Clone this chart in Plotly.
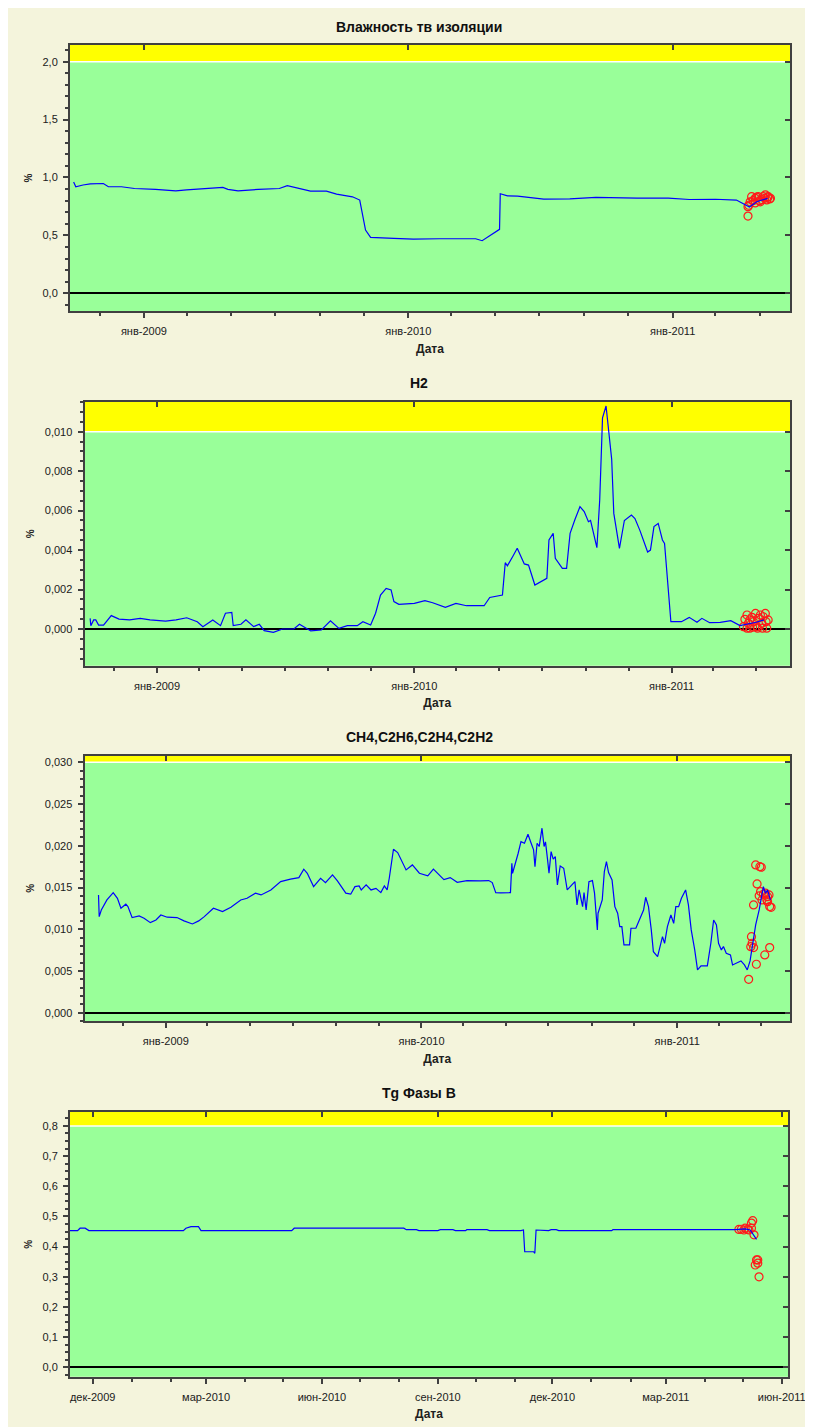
import plotly.graph_objects as go

# ---------------- Panel 1: Влажность тв изоляции ----------------
p1_title = "Влажность тв изоляции"
p1_dates = ["2008-09-26", "2008-09-29", "2008-10-09", "2008-10-19", "2008-11-06", "2008-11-13", "2008-12-01",
            "2008-12-19", "2009-01-17", "2009-02-14", "2009-03-01", "2009-03-29", "2009-04-20", "2009-04-27",
            "2009-05-11", "2009-06-08", "2009-07-07", "2009-07-18", "2009-08-05", "2009-08-19", "2009-09-10",
            "2009-09-24", "2009-10-16", "2009-10-26", "2009-11-03", "2009-11-10", "2009-12-12", "2010-01-08",
            "2010-02-13", "2010-04-04", "2010-04-13", "2010-04-26", "2010-05-07", "2010-05-08", "2010-05-18",
            "2010-06-01", "2010-06-15", "2010-07-07", "2010-08-12", "2010-09-17", "2010-11-13", "2010-12-12",
            "2010-12-26", "2011-01-24", "2011-03-01", "2011-03-30", "2011-04-13", "2011-04-17", "2011-04-27",
            "2011-05-08", "2011-05-12"]
p1_vals = [0.96, 0.92, 0.935, 0.945, 0.948, 0.92, 0.92,
           0.905, 0.897, 0.885, 0.893, 0.905, 0.914, 0.897,
           0.885, 0.897, 0.905, 0.93, 0.905, 0.882, 0.882,
           0.856, 0.833, 0.805, 0.546, 0.483, 0.474, 0.468,
           0.471, 0.471, 0.454, 0.503, 0.552, 0.86, 0.842,
           0.839, 0.828, 0.813, 0.816, 0.828, 0.822, 0.825,
           0.822, 0.81, 0.812, 0.805, 0.76, 0.745, 0.79,
           0.81, 0.82]
p1_pt_dates = ["2011-04-15", "2011-04-15", "2011-04-16", "2011-04-18", "2011-04-20", "2011-04-22", "2011-04-25",
               "2011-04-25", "2011-04-27", "2011-04-29", "2011-05-01", "2011-05-02", "2011-05-04", "2011-05-06",
               "2011-05-08", "2011-05-09", "2011-05-11", "2011-05-12", "2011-05-13", "2011-05-15", "2011-05-16"]
p1_pt_vals = [0.667, 0.748, 0.76, 0.79, 0.834, 0.80, 0.82,
              0.78, 0.83, 0.834, 0.80, 0.79, 0.81, 0.835,
              0.82, 0.85, 0.806, 0.83, 0.834, 0.815, 0.82]
p1_limit = 2.0
p1_range = [-0.153, 2.144]

# ---------------- Panel 2: H2 ----------------
p2_title = "H2"
p2_dates = ["2008-09-28", "2008-09-29", "2008-10-03", "2008-10-06", "2008-10-10", "2008-10-17", "2008-10-28",
            "2008-11-08", "2008-11-23", "2008-12-08", "2008-12-22", "2009-01-13", "2009-01-28", "2009-02-12",
            "2009-02-27", "2009-03-07", "2009-03-21", "2009-04-01", "2009-04-08", "2009-04-17", "2009-04-19",
            "2009-04-30", "2009-05-07", "2009-05-18", "2009-05-26", "2009-06-02", "2009-06-15", "2009-06-28",
            "2009-07-14", "2009-07-22", "2009-07-31", "2009-08-07", "2009-08-22", "2009-09-04", "2009-09-16",
            "2009-09-28", "2009-10-12", "2009-10-20", "2009-10-31", "2009-11-07", "2009-11-14", "2009-11-22",
            "2009-11-29", "2009-12-03", "2009-12-10", "2009-12-25", "2010-01-01", "2010-01-16", "2010-01-27",
            "2010-02-14", "2010-03-01", "2010-03-16", "2010-04-10", "2010-04-18", "2010-05-06", "2010-05-10",
            "2010-05-13", "2010-05-21", "2010-05-27", "2010-06-06", "2010-06-12", "2010-06-21", "2010-07-04",
            "2010-07-08", "2010-07-11", "2010-07-17", "2010-07-20", "2010-07-30", "2010-08-05", "2010-08-10",
            "2010-08-17", "2010-08-24", "2010-08-30", "2010-09-05", "2010-09-08", "2010-09-12", "2010-09-17",
            "2010-09-21", "2010-09-25", "2010-09-30", "2010-10-08", "2010-10-11", "2010-10-19", "2010-10-26",
            "2010-11-05", "2010-11-10", "2010-11-17", "2010-11-28", "2010-12-02", "2010-12-07", "2010-12-13",
            "2010-12-19", "2010-12-22", "2010-12-31", "2011-01-15", "2011-01-26", "2011-02-06", "2011-02-13",
            "2011-02-24", "2011-03-11", "2011-03-26", "2011-04-08", "2011-04-20", "2011-05-01", "2011-05-12"]
p2_vals = [0.00054, 0.00017, 0.00046, 0.00046, 0.00020, 0.00020, 0.00068,
           0.00050, 0.00046, 0.00054, 0.00046, 0.00040, 0.00046, 0.00057,
           0.00037, 0.00012, 0.00046, 0.00017, 0.00080, 0.00084, 0.00017,
           0.00024, 0.00046, 0.00012, 0.00024, -0.00008, -0.00017, 0.00000,
           0.00000, 0.00024, 0.00005, -0.00010, -0.00005, 0.00042, 0.00003,
           0.00017, 0.00017, 0.00037, 0.00020, 0.00080, 0.00172, 0.00206,
           0.00198, 0.00139, 0.00125, 0.00130, 0.00130, 0.00144, 0.00133,
           0.00110, 0.00130, 0.00118, 0.00118, 0.00160, 0.00172, 0.00336,
           0.00320, 0.00370, 0.00409, 0.00330, 0.00324, 0.00223, 0.00248,
           0.00257, 0.00451, 0.00485, 0.00358, 0.00307, 0.00307, 0.00485,
           0.00556, 0.00620, 0.00595, 0.00544, 0.00550, 0.00485, 0.00412,
           0.00654, 0.01070, 0.01130, 0.00860, 0.00586, 0.00409, 0.00550,
           0.00578, 0.00560, 0.00500, 0.00390, 0.00400, 0.00519, 0.00535,
           0.00451, 0.00434, 0.00037, 0.00037, 0.00059, 0.00034, 0.00054,
           0.00032, 0.00034, 0.00042, 0.00017, 0.00025, 0.00034, 0.00046]
p2_pt_dates = ["2011-04-13", "2011-04-15", "2011-04-18", "2011-04-18", "2011-04-20", "2011-04-22", "2011-04-22",
               "2011-04-25", "2011-04-26", "2011-04-27", "2011-04-30", "2011-05-02", "2011-05-03", "2011-05-04",
               "2011-05-07", "2011-05-09", "2011-05-10", "2011-05-11", "2011-05-14", "2011-05-15", "2011-05-16",
               "2011-05-18"]
p2_pt_vals = [0.00012, 0.00049, 0.00071, 0.00004, 0.00029, 0.00004, 0.00046,
              0.00059, 0.00009, 0.00037, 0.00079, 0.00012, 0.00004, 0.00054,
              0.00071, 0.00029, 0.00004, 0.00062, 0.00079, 0.00037, 0.00004,
              0.00046]
p2_limit = 0.010
p2_range = [-0.00186, 0.01152]

# ---------------- Panel 3: CH4,C2H6,C2H4,C2H2 ----------------
p3_title = "CH4,C2H6,C2H4,C2H2"
p3_dates = ["2008-09-27", "2008-09-28", "2008-10-01", "2008-10-09", "2008-10-18", "2008-10-24", "2008-10-29",
            "2008-11-05", "2008-11-08", "2008-11-14", "2008-11-24", "2008-12-01", "2008-12-10", "2008-12-18",
            "2008-12-25", "2009-01-03", "2009-01-17", "2009-01-27", "2009-02-08", "2009-02-17", "2009-02-25",
            "2009-03-10", "2009-03-23", "2009-04-04", "2009-04-18", "2009-04-27", "2009-05-09", "2009-05-17",
            "2009-05-31", "2009-06-14", "2009-06-28", "2009-07-10", "2009-07-17", "2009-07-22", "2009-07-31",
            "2009-08-10", "2009-08-17", "2009-08-27", "2009-09-03", "2009-09-15", "2009-09-22", "2009-09-28",
            "2009-10-04", "2009-10-07", "2009-10-14", "2009-10-21", "2009-10-28", "2009-11-04", "2009-11-09",
            "2009-11-13", "2009-11-16", "2009-11-22", "2009-11-28", "2009-12-10", "2009-12-19", "2009-12-29",
            "2010-01-10", "2010-01-18", "2010-02-02", "2010-02-11", "2010-02-21", "2010-03-07", "2010-03-26",
            "2010-04-07", "2010-04-12", "2010-04-17", "2010-04-24", "2010-05-08", "2010-05-10", "2010-05-11",
            "2010-05-19", "2010-05-23", "2010-05-28", "2010-06-02", "2010-06-06", "2010-06-10", "2010-06-12",
            "2010-06-15", "2010-06-18", "2010-06-22", "2010-06-25", "2010-06-27", "2010-06-30", "2010-07-02",
            "2010-07-05", "2010-07-08", "2010-07-11", "2010-07-14", "2010-07-18", "2010-07-23", "2010-07-28",
            "2010-08-02", "2010-08-08", "2010-08-11", "2010-08-14", "2010-08-19", "2010-08-21", "2010-08-24",
            "2010-08-28", "2010-09-02", "2010-09-05", "2010-09-09", "2010-09-10", "2010-09-16", "2010-09-19",
            "2010-09-22", "2010-09-25", "2010-09-30", "2010-10-04", "2010-10-08", "2010-10-11", "2010-10-14",
            "2010-10-17", "2010-10-25", "2010-10-27", "2010-11-03", "2010-11-05", "2010-11-10", "2010-11-14",
            "2010-11-17", "2010-11-21", "2010-11-25", "2010-11-28", "2010-12-04", "2010-12-08", "2010-12-11",
            "2010-12-14", "2010-12-18", "2010-12-23", "2010-12-27", "2010-12-30", "2011-01-03", "2011-01-07",
            "2011-01-13", "2011-01-17", "2011-01-21", "2011-01-26", "2011-01-30", "2011-02-04", "2011-02-13",
            "2011-02-18", "2011-02-22", "2011-02-26", "2011-03-01", "2011-03-05", "2011-03-08", "2011-03-12",
            "2011-03-18", "2011-03-21", "2011-03-28", "2011-04-02", "2011-04-07", "2011-04-11", "2011-04-15",
            "2011-04-18", "2011-04-23", "2011-04-28", "2011-05-04", "2011-05-07", "2011-05-10", "2011-05-14"]
p3_vals = [0.01411, 0.01151, 0.01231, 0.01351, 0.01439, 0.01371, 0.01252,
           0.01300, 0.01271, 0.01139, 0.01159, 0.01132, 0.01079, 0.01111,
           0.01171, 0.01144, 0.01140, 0.01100, 0.01063, 0.01100, 0.01151,
           0.01252, 0.01211, 0.01264, 0.01351, 0.01371, 0.01432, 0.01411,
           0.01471, 0.01571, 0.01600, 0.01619, 0.01720, 0.01671, 0.01511,
           0.01611, 0.01559, 0.01651, 0.01579, 0.01432, 0.01420, 0.01511,
           0.01519, 0.01471, 0.01531, 0.01471, 0.01490, 0.01439, 0.01519,
           0.01471, 0.01611, 0.01959, 0.01919, 0.01711, 0.01771, 0.01671,
           0.01639, 0.01720, 0.01595, 0.01619, 0.01563, 0.01583, 0.01580,
           0.01583, 0.01559, 0.01439, 0.01435, 0.01439, 0.01791, 0.01671,
           0.01911, 0.02050, 0.02031, 0.02139, 0.02043, 0.01951, 0.01751,
           0.02031, 0.01991, 0.02211, 0.01991, 0.02047, 0.01831, 0.01671,
           0.01930, 0.01840, 0.01870, 0.01531, 0.01759, 0.01731, 0.01471,
           0.01511, 0.01571, 0.01291, 0.01471, 0.01271, 0.01440, 0.01231,
           0.01571, 0.01583, 0.01432, 0.00992, 0.01192, 0.01351, 0.01691,
           0.01811, 0.01680, 0.01591, 0.01271, 0.01192, 0.01031, 0.01031,
           0.00812, 0.00812, 0.01012, 0.01012, 0.01050, 0.01151, 0.01231,
           0.01383, 0.01270, 0.00992, 0.00731, 0.00671, 0.00790, 0.00911,
           0.00830, 0.01031, 0.01171, 0.01070, 0.01271, 0.01271, 0.01371,
           0.01471, 0.01291, 0.00992, 0.00752, 0.00512, 0.00560, 0.00560,
           0.00832, 0.01111, 0.01052, 0.00832, 0.00752, 0.00792, 0.00712,
           0.00692, 0.00572, 0.00600, 0.00620, 0.00572, 0.00512, 0.00620,
           0.00791, 0.01052, 0.01231, 0.01511, 0.01432, 0.01470, 0.01351]
p3_pt_dates = ["2011-04-13", "2011-04-17", "2011-04-16", "2011-04-18", "2011-04-20", "2011-04-20", "2011-04-23",
               "2011-04-24", "2011-04-25", "2011-04-29", "2011-05-01", "2011-04-28", "2011-04-30", "2011-05-02",
               "2011-05-04", "2011-05-06", "2011-05-07", "2011-05-09", "2011-05-10", "2011-05-10", "2011-05-12",
               "2011-05-13", "2011-05-13", "2011-05-15"]
p3_pt_vals = [0.00400, 0.00911, 0.00791, 0.00832, 0.00780, 0.01291, 0.01771,
              0.00580, 0.01543, 0.01750, 0.01743, 0.01400, 0.01451, 0.01351,
              0.01420, 0.00692, 0.01432, 0.01351, 0.01390, 0.01330, 0.01411,
              0.00780, 0.01271, 0.01263]
p3_limit = 0.030
p3_range = [-0.001, 0.0308]

# ---------------- Panel 4: Tg Фазы В ----------------
p4_title = "Tg Фазы В"
p4_dates = ["2009-11-13", "2009-11-19", "2009-11-21", "2009-11-25", "2009-11-28", "2010-02-11", "2010-02-13",
            "2010-02-17", "2010-02-23", "2010-02-25", "2010-05-08", "2010-05-10", "2010-08-05", "2010-08-07",
            "2010-08-15", "2010-08-17", "2010-09-01", "2010-09-03", "2010-09-13", "2010-09-15", "2010-09-23",
            "2010-09-24", "2010-10-10", "2010-10-12", "2010-11-06", "2010-11-08", "2010-11-09", "2010-11-16",
            "2010-11-17", "2010-11-18", "2010-11-28", "2010-11-30", "2010-12-04", "2010-12-06", "2011-01-17",
            "2011-01-18", "2011-04-25", "2011-05-03", "2011-05-07", "2011-05-09", "2011-05-12"]
p4_vals = [0.453, 0.453, 0.461, 0.461, 0.453, 0.453, 0.461,
           0.466, 0.466, 0.453, 0.453, 0.461, 0.461, 0.456,
           0.456, 0.453, 0.453, 0.456, 0.456, 0.453, 0.453,
           0.456, 0.456, 0.453, 0.453, 0.455, 0.383, 0.383,
           0.378, 0.455, 0.453, 0.456, 0.456, 0.453, 0.453,
           0.456, 0.456, 0.459, 0.455, 0.444, 0.424]
p4_pt_dates = ["2011-04-28", "2011-04-30", "2011-05-02", "2011-05-03", "2011-05-05", "2011-05-06", "2011-05-08",
               "2011-05-08", "2011-05-09", "2011-05-10", "2011-05-11", "2011-05-12", "2011-05-13", "2011-05-13",
               "2011-05-14"]
p4_pt_vals = [0.457, 0.4575, 0.455, 0.461, 0.4575, 0.455, 0.461,
              0.478, 0.486, 0.439, 0.339, 0.356, 0.356, 0.345,
              0.300]
p4_limit = 0.8
p4_range = [-0.031, 0.846]

# tick labels
yearly_tickvals = ["2009-01-01", "2010-01-01", "2011-01-01"]
yearly_ticktext = ["янв-2009", "янв-2010", "янв-2011"]
p4_tickvals = ["2009-12-01", "2010-03-01", "2010-06-01", "2010-09-01", "2010-12-01", "2011-03-01", "2011-06-01"]
p4_ticktext = ["дек-2009", "мар-2010", "июн-2010", "сен-2010", "дек-2010", "мар-2011", "июн-2011"]

# ---------------- layout geometry (page pixels; page body has an 8px margin) ----------------
OFF = 8
W, H = 797, 1419
BEIGE = "#F4F4DC"
GREEN = "#99FF99"
YELLOW = "#FFFF00"
AXC = "#404040"
FONT = "Liberation Sans, Arial, sans-serif"


def fx(px):
    return (px - OFF) / W


def fy(py):
    return 1 - (py - OFF) / H


panels = [
    dict(title=p1_title, d=p1_dates, v=p1_vals, pd=p1_pt_dates, pv=p1_pt_vals, lim=p1_limit, yr=p1_range,
         xr=["2008-09-21", "2011-06-12"], px=(70, 790), py=(45, 311), ty=27, dtick=0.5, fmt=".1f", ymin=0.1,
         tv=yearly_tickvals, tt=yearly_ticktext, xminor="M2"),
    dict(title=p2_title, d=p2_dates, v=p2_vals, pd=p2_pt_dates, pv=p2_pt_vals, lim=p2_limit, yr=p2_range,
         xr=["2008-09-20", "2011-06-18"], px=(84.5, 790), py=(401.7, 665.7), ty=383, dtick=0.002, fmt=".3f",
         ymin=0.0005, tv=yearly_tickvals, tt=yearly_ticktext, xminor="M2"),
    dict(title=p3_title, d=p3_dates, v=p3_vals, pd=p3_pt_dates, pv=p3_pt_vals, lim=p3_limit, yr=p3_range,
         xr=["2008-09-07", "2011-06-11"], px=(84.5, 790), py=(755.7, 1021), ty=737, dtick=0.005, fmt=".3f",
         ymin=0.001, tv=yearly_tickvals, tt=yearly_ticktext, xminor="M2"),
    dict(title=p4_title, d=p4_dates, v=p4_vals, pd=p4_pt_dates, pv=p4_pt_vals, lim=p4_limit, yr=p4_range,
         xr=["2009-11-13", "2011-06-06"], px=(70, 788), py=(1112, 1376.7), ty=1093, dtick=0.1, fmt=".1f",
         ymin=0.025, tv=p4_tickvals, tt=p4_ticktext, xminor="M1"),
]

fig = go.Figure()
shapes = []
annotations = []
layout = {}
N = len(panels)

for i, p in enumerate(panels, start=1):
    xa = "x" if i == 1 else f"x{i}"
    ya = "y" if i == 1 else f"y{i}"
    xkey = "xaxis" if i == 1 else f"xaxis{i}"
    ykey = "yaxis" if i == 1 else f"yaxis{i}"
    # mirror axes (top / right) carrying inward ticks
    xm, ym = f"x{i + N}", f"y{i + N}"

    fig.add_trace(go.Scatter(x=p["pd"], y=p["pv"], mode="markers", xaxis=xa, yaxis=ya,
                             marker=dict(symbol="circle-open", size=8, color="#FF1A1A",
                                         line=dict(width=1.2, color="#FF1A1A")),
                             hoverinfo="skip"))
    fig.add_trace(go.Scatter(x=p["d"], y=p["v"], mode="lines", xaxis=xa, yaxis=ya,
                             line=dict(color="#0000FF", width=1.2), hoverinfo="skip"))
    fig.add_trace(go.Scatter(x=[], y=[], mode="lines", xaxis=xm, yaxis=ym, hoverinfo="skip"))

    dom_x = [fx(p["px"][0]), fx(p["px"][1])]
    dom_y = [fy(p["py"][1]), fy(p["py"][0])]

    layout[xkey] = dict(
        domain=dom_x, anchor=ya, type="date", range=p["xr"],
        tickvals=p["tv"], ticktext=p["tt"], showgrid=False, zeroline=False,
        showline=True, linecolor=AXC, linewidth=2, mirror=True,
        ticks="outside", ticklen=5, tickwidth=1.5, tickcolor=AXC, ticklabelstandoff=4,
        ticklabeloverflow="allow", automargin=False,
        minor=dict(ticks="outside", ticklen=3, tickcolor=AXC, dtick=p["xminor"], tick0="2009-01-01"),
        tickfont=dict(size=11, color="#202020", family=FONT),
        title=dict(text="<b>Дата</b>", font=dict(size=12, color="#202020", family=FONT), standoff=8),
    )
    layout[ykey] = dict(
        domain=dom_y, anchor=xa, range=p["yr"],
        tick0=0, dtick=p["dtick"], tickformat=p["fmt"], showgrid=False,
        zeroline=True, zerolinecolor="#000000", zerolinewidth=2,
        showline=True, linecolor=AXC, linewidth=2, mirror=True,
        ticks="outside", ticklen=5, tickwidth=1.5, tickcolor=AXC, ticklabelstandoff=3,
        automargin=False,
        minor=dict(ticks="outside", ticklen=3, tickcolor=AXC, dtick=p["ymin"], tick0=0),
        tickfont=dict(size=11, color="#202020", family=FONT),
        title=dict(text="<b>%</b>", font=dict(size=10, color="#202020", family=FONT), standoff=8),
    )
    layout[f"xaxis{i + N}"] = dict(
        overlaying=xa, side="top", anchor=ym, type="date", range=p["xr"], tickvals=p["tv"],
        showticklabels=False, showgrid=False, zeroline=False, showline=False,
        ticks="inside", ticklen=5, tickwidth=1.5, tickcolor=AXC,
    )
    layout[f"yaxis{i + N}"] = dict(
        overlaying=ya, side="right", anchor=xm, range=p["yr"], tick0=0, dtick=p["dtick"],
        showticklabels=False, showgrid=False, zeroline=False, showline=False,
        ticks="inside", ticklen=5, tickwidth=1.5, tickcolor=AXC,
    )
    # warning zone above the limit and the white boundary line
    shapes.append(dict(type="rect", xref=f"{xa} domain", yref=ya, x0=0, x1=1, y0=p["lim"], y1=p["yr"][1],
                       fillcolor=YELLOW, line=dict(width=0), layer="below"))
    shapes.append(dict(type="line", xref=f"{xa} domain", yref=ya, x0=0, x1=1, y0=p["lim"], y1=p["lim"],
                       line=dict(color="#FFFFFF", width=1.5), layer="below"))
    annotations.append(dict(text=f"<b>{p['title']}</b>", xref="paper", yref="paper", x=fx(419),
                            y=fy(p["ty"]), xanchor="center", yanchor="middle", showarrow=False,
                            font=dict(size=14, color="#101010", family=FONT)))

fig.update_layout(
    width=W, height=H, autosize=False,
    margin=dict(l=0, r=0, t=0, b=0, pad=0, autoexpand=False),
    paper_bgcolor=BEIGE, plot_bgcolor=GREEN,
    separators=", ", showlegend=False,
    font=dict(family=FONT, size=11, color="#202020"),
    shapes=shapes, annotations=annotations,
    **layout,
)

fig.write_html("out.html")
